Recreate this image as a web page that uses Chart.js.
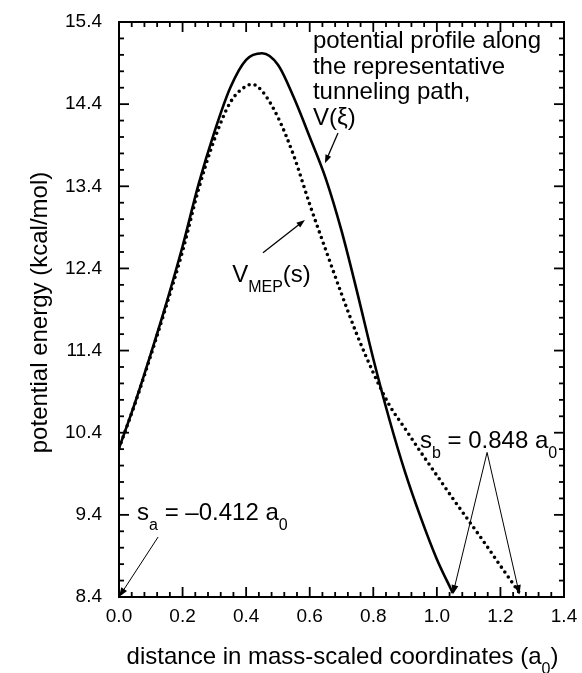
<!DOCTYPE html>
<html>
<head>
<meta charset="utf-8">
<script src="https://cdn.jsdelivr.net/npm/chart.js@4.4.1/dist/chart.umd.min.js"></script>
<style>
  html, body { margin: 0; padding: 0; background: #fff; }
  #wrap { width: 582px; height: 673px; }
</style>
</head>
<body>
<div id="wrap"><canvas id="energyChart" width="582" height="673"></canvas></div>
<script>
// values
const xTickValues = [0.0, 0.2, 0.4, 0.6, 0.8, 1.0, 1.2, 1.4];
const yTickValues = [8.4, 9.4, 10.4, 11.4, 12.4, 13.4, 14.4, 15.4];

// V(xi): potential along the representative tunneling path (solid)
const xiDistance = [0, 0.05, 0.1, 0.15, 0.2, 0.25, 0.3, 0.35, 0.4, 0.45, 0.5, 0.55, 0.6, 0.65, 0.7, 0.75, 0.8, 0.85, 0.9, 0.95, 1.0, 1.05];
const xiEnergy = [10.21, 10.76, 11.36, 11.99, 12.67, 13.42, 14.06, 14.6, 14.94, 15.02, 14.88, 14.48, 14.0, 13.5, 12.86, 12.1, 11.3, 10.57, 9.92, 9.36, 8.86, 8.45];

// V_MEP(s): potential along the minimum energy path (dotted)
const mepDistance = [0, 0.05, 0.1, 0.15, 0.2, 0.25, 0.3, 0.35, 0.4, 0.42, 0.45, 0.5, 0.55, 0.6, 0.65, 0.7, 0.75, 0.8, 0.85, 0.9, 0.95, 1.0, 1.05, 1.1, 1.15, 1.2, 1.26];
const mepEnergy = [10.21, 10.75, 11.34, 11.96, 12.61, 13.36, 13.97, 14.42, 14.62, 14.64, 14.56, 14.24, 13.77, 13.18, 12.63, 12.09, 11.58, 11.13, 10.74, 10.45, 10.16, 9.88, 9.6, 9.33, 9.06, 8.78, 8.45];

const profileLines = ["potential profile along", "the representative", "tunneling path,", "V(ξ)"];

const FONT = '"Liberation Sans", Arial, Helvetica, sans-serif';

const toPoints = (xs, ys) => xs.map((v, i) => ({ x: v, y: ys[i] }));

// text with subscripts: parts = [[text, isSub], ...]
const richWidth = (ctx, parts) => parts.reduce((w, [t, sub]) => {
    ctx.font = (sub ? 16 : 24) + "px " + FONT;
    return w + ctx.measureText(t).width;
}, 0);

const drawRich = (ctx, parts, x, y, align) => {
    let cx = x;
    if (align === "center") cx = x - richWidth(ctx, parts) / 2;
    parts.forEach(([t, sub]) => {
        ctx.font = (sub ? 16 : 24) + "px " + FONT;
        ctx.fillText(t, cx, sub ? y + 10 : y);
        cx += ctx.measureText(t).width;
    });
};

const arrow = (ctx, x1, y1, x2, y2, width, head) => {
    const ang = Math.atan2(y2 - y1, x2 - x1);
    ctx.lineWidth = width;
    ctx.beginPath();
    ctx.moveTo(x1, y1);
    ctx.lineTo(x2 - Math.cos(ang) * head * 0.6, y2 - Math.sin(ang) * head * 0.6);
    ctx.stroke();
    ctx.beginPath();
    ctx.moveTo(x2, y2);
    ctx.lineTo(x2 - head * Math.cos(ang - 0.35), y2 - head * Math.sin(ang - 0.35));
    ctx.lineTo(x2 - head * Math.cos(ang + 0.35), y2 - head * Math.sin(ang + 0.35));
    ctx.closePath();
    ctx.fill();
};

const frameAndNotes = {
    id: "frameAndNotes",
    afterDatasetsDraw(chart) {
        const { ctx, chartArea: a, scales: { x, y } } = chart;
        const px = (v) => x.getPixelForValue(v);
        const py = (v) => y.getPixelForValue(v);
        const seg = (x1, y1, x2, y2) => { ctx.beginPath(); ctx.moveTo(x1, y1); ctx.lineTo(x2, y2); ctx.stroke(); };

        ctx.save();
        ctx.strokeStyle = "#000";
        ctx.fillStyle = "#000";

        // box
        ctx.lineWidth = 2;
        ctx.strokeRect(a.left, a.top, a.right - a.left, a.bottom - a.top);

        // inward ticks on all four sides
        ctx.lineWidth = 1.8;
        for (let i = 0; i <= 35; i++) {
            const p = px(i * 0.04);
            const len = i % 5 === 0 ? 10 : 5;
            seg(p, a.bottom, p, a.bottom - len);
            seg(p, a.top, p, a.top + len);
        }
        for (let i = 0; i <= 35; i++) {
            const p = py(8.4 + i * 0.2);
            const len = i % 5 === 0 ? 10 : 5;
            seg(a.left, p, a.left + len, p);
            seg(a.right, p, a.right - len, p);
        }

        ctx.textBaseline = "alphabetic";
        ctx.textAlign = "left";

        // profile label, top right
        const lx = px(0.61);
        profileLines.forEach((t, i) => {
            ctx.font = "24px " + FONT;
            ctx.fillText(t, lx, a.top + 26 + i * 25.7);
        });
        arrow(ctx, px(0.689), py(14.05), px(0.648), py(13.68), 1.3, 9);

        // V_MEP(s)
        drawRich(ctx, [["V", 0], ["MEP", 1], ["(s)", 0]], px(0.356), py(12.235));
        arrow(ctx, px(0.453), py(12.59), px(0.585), py(12.99), 1.3, 9);

        // turning points
        drawRich(ctx, [["s", 0], ["a", 1], [" = \u20130.412 a", 0], ["0", 1]], px(0.057), py(9.4) + 5);
        arrow(ctx, px(0.123), py(9.13), px(0), py(8.4), 1, 10);

        drawRich(ctx, [["s", 0], ["b", 1], [" = 0.848 a", 0], ["0", 1]], px(0.947), py(10.22));
        const bx = px(1.158), by = py(10.16);
        arrow(ctx, bx, by, px(xiDistance[xiDistance.length - 1]), py(8.43), 1, 10);
        arrow(ctx, bx, by, px(mepDistance[mepDistance.length - 1]), py(8.43), 1, 10);

        // axis titles
        drawRich(ctx, [["distance in mass-scaled coordinates (a", 0], ["0", 1], [")", 0]], (a.left + a.right) / 2 + 1, 664, "center");
        ctx.translate(47, (a.top + a.bottom) / 2 + 3);
        ctx.rotate(-Math.PI / 2);
        drawRich(ctx, [["potential energy (kcal/mol)", 0]], 0, 0, "center");

        ctx.restore();
    }
};

new Chart(document.getElementById("energyChart"), {
    type: "line",
    data: {
        datasets: [
            {
                label: "V(ξ)",
                data: toPoints(xiDistance, xiEnergy),
                borderColor: "#000",
                borderWidth: 2.6,
                pointRadius: 0,
                cubicInterpolationMode: "monotone",
            },
            {
                label: "V_MEP(s)",
                data: toPoints(mepDistance, mepEnergy),
                borderColor: "#000",
                borderWidth: 3.6,
                borderDash: [0, 6],
                borderCapStyle: "round",
                pointRadius: 0,
                cubicInterpolationMode: "monotone",
            },
        ],
    },
    options: {
        responsive: false,
        animation: false,
        layout: { padding: { left: 0, top: 22, right: 18, bottom: 0 } },
        plugins: { legend: { display: false }, tooltip: { enabled: false } },
        scales: {
            x: {
                type: "linear",
                min: 0,
                max: 1.4,
                afterBuildTicks: (s) => { s.ticks = xTickValues.map((v) => ({ value: v })); },
                afterFit: (s) => { s.height = 76; s.paddingLeft = 0; s.paddingRight = 0; },
                grid: { display: false, drawTicks: false },
                border: { display: false },
                ticks: {
                    color: "#000",
                    padding: 8,
                    maxRotation: 0,
                    font: { family: FONT, size: 19 },
                    callback: (v) => Number(v).toFixed(1),
                },
            },
            y: {
                min: 8.4,
                max: 15.4,
                afterBuildTicks: (s) => { s.ticks = yTickValues.map((v) => ({ value: v })); },
                afterFit: (s) => { s.width = 119; s.paddingTop = 0; s.paddingBottom = 0; },
                grid: { display: false, drawTicks: false },
                border: { display: false },
                ticks: {
                    color: "#000",
                    padding: 17,
                    font: { family: FONT, size: 19 },
                    callback: (v) => Number(v).toFixed(1),
                },
            },
        },
    },
    plugins: [frameAndNotes],
});
</script>
</body>
</html>
